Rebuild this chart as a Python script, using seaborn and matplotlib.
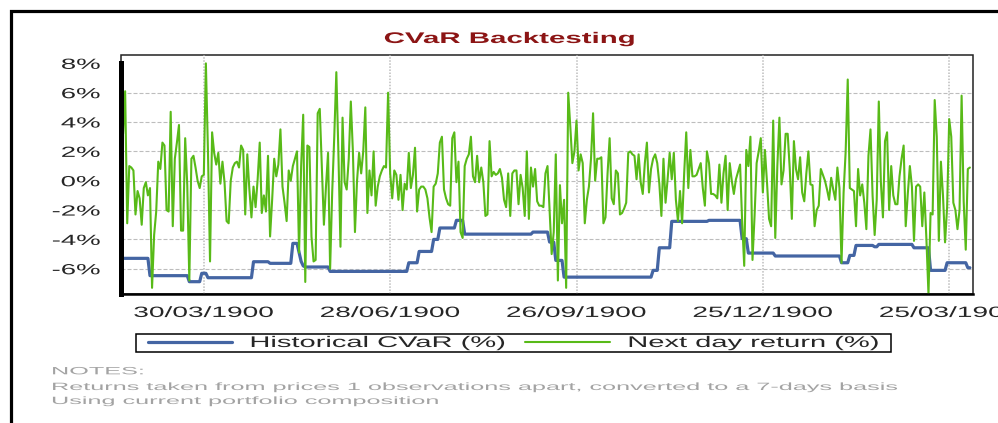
import numpy as np
import pandas as pd
import matplotlib
matplotlib.use("Agg")
import matplotlib.pyplot as plt
import matplotlib.dates as mdates
from matplotlib.ticker import FixedLocator, MultipleLocator, FuncFormatter
from matplotlib.patches import Rectangle
from matplotlib.patheffects import AbstractPathEffect
from matplotlib.transforms import Affine2D
import seaborn as sns

# observations are daily, first one on 19/02/1900
first_day = "1900-02-19"

# next day return (%) in chunks
ret_seg1 = [3.2, 6.1, -2.9, 1.0, 0.9, 0.7, -2.3, -0.7, -1.2, -3.0,
            -0.5, -0.1, -1.0, -0.5, -7.3, -3.7, -2.1, 1.3, 0.8, 2.6,
            2.4, -2.0, -2.1, 4.7, -3.1, 1.5, 2.6, 3.8, -3.4, -3.4,
            2.9, -0.3, -6.8, 1.5, 1.7, 0.9, 0.0, -0.5, 0.3, 0.4,
            8.0, 2.0, -5.5, 3.3, 1.9, 1.1, 1.9, -0.2, 1.3, -0.1,
            -2.75, -2.9, 0.0, 0.9, 1.2]
ret_seg2 = [1.3, 0.9, 2.4, 2.1, -2.3, 1.8, -0.6, -2.5, -0.4, -1.8,
            0.1, 2.6, -2.2, -1.0, -2.1, 1.7, -3.8, -1.3, 1.5, 0.3,
            1.1, 3.5, -0.4, -1.5, -2.75, 0.7, 0.0, 1.0, 1.5, 2.0,
            -4.9, 1.0, 4.5, -6.9, 2.4, 2.3, -3.8, -5.5, -5.4, 4.6,
            4.9, 1.0, -3.0, -0.4, 1.9, -6.0, -0.8, 3.0, 7.4, 1.9,
            -4.5, 4.3, -0.1, -0.6, 1.5, 5.4, 2.0, -3.5, 0.0, 1.9]
ret_seg3 = [0.5, 2.0, 5.0, -2.2, 0.7, -1.0, 2.0, -1.7, -0.4, 0.3,
            0.7, 1.0, 0.9, 6.0, 0.5, -1.2, 0.7, 0.4, -1.3, 0.4,
            -2.0, -0.2, -0.6, 1.9, -0.5, 0.4, 2.25, -2.1, -0.6, -0.4,
            -0.4, -0.6, -1.2, -2.5, -3.5, -0.4, -0.2, 0.5, 2.6, 3.0,
            -0.6, -1.2, -1.6, -1.7, 2.9, 3.3, -0.1, 1.3, -3.5, -3.9,
            1.0, 1.5, 1.8, 3.0, 0.3, -0.1, 1.7, -0.1]
ret_seg4 = [0.9, -0.1, -2.4, -2.3, 2.7, 0.3, 0.6, 0.4, 0.5, 0.8,
            0.2, -1.3, -1.8, 0.5, -2.4, 0.5, 0.7, 0.7, -1.6, 0.4,
            -0.5, -2.4, 2.0, -2.6, 0.9, -0.4, 0.8, -1.4, -1.7, -1.7,
            -1.8, 0.5, 1.0, -2.0, -5.0, -3.5, 1.8, -6.8, -0.3, -2.9,
            -1.3, -7.3, 6.0, 3.7, 1.2, 2.0, 4.1, 0.7, 1.8, 1.2,
            -2.9, -1.3, -0.4, 1.5, 4.6, 0.0, 1.5, 1.5]
ret_seg5 = [1.6, -2.9, -2.5, 0.5, 2.9, -1.2, -1.6, 0.7, 0.5, -2.3,
            -2.2, -1.9, -1.5, 1.9, 2.0, 1.8, 1.7, 0.1, 1.8, -0.1,
            -0.9, 1.2, 2.6, -0.8, 0.8, 1.5, 1.8, 1.2, -0.2, -2.4,
            1.5, -1.5, 0.1, 1.9, 0.1, 1.9, -1.3, -2.75, -0.7, -2.9,
            0.5, 3.3, -0.5, 2.1, 0.3, 0.3, 0.4, 0.8, 1.2, -0.5,
            -1.7, 2.0, 1.2, -0.9, -0.9, -1.0, -1.2, 1.1]
ret_seg6 = [-1.5, 0.5, 1.7, -2.0, 1.2, 0.0, -0.9, 0.1, 0.6, 1.1,
            -2.75, -5.8, 2.1, 1.0, 3.0, -5.4, -2.4, 1.2, 2.0, 2.9,
            -0.8, 2.1, -0.1, -2.6, -3.1, 4.1, -3.9, 1.0, 4.3, -0.25,
            0.7, 3.2, 3.2, 0.8, -2.6, 2.7, 0.8, 0.1, 1.6, -0.8,
            -1.4, 0.5, 2.0, -0.25, -0.3, -3.1, -2.0, -1.7, 0.8, 0.4,
            0.0, -0.6, -1.3, 0.2, -0.6, -1.3, 0.9, -0.5]
ret_seg7 = [-5.6, -0.8, 2.0, 6.9, -0.5, -0.6, -0.7, -3.1, 0.8, -1.0,
            -0.25, -1.5, -3.3, 1.7, 3.5, -1.0, -3.7, -1.3, 5.4, -0.1,
            -2.5, 2.7, 3.3, -2.0, 1.0, -1.0, -1.6, -1.6, 0.3, 1.5,
            2.4, -3.1, -0.9, 1.0, -0.4, -4.1, -0.4, -0.25, -0.4, -3.1,
            -0.8, -4.0, -7.75, -2.2, -2.3, 5.5, 3.0, -4.1, 1.3, -1.0,
            -4.2, -1.8, 4.2, 3.0, -1.5, -2.0, -3.3, -2.0, 5.8, -1.4,
            -4.7, 0.8, 0.9]

# historical CVaR (%): level and how many days it holds
cvar_levels = [-5.29, -6.47, -6.88, -6.31, -6.61, -5.52, -5.63, -4.27, -4.9, -5.5,
               -5.8, -5.88, -6.18, -5.59, -4.82, -4.0, -3.22, -2.7, -3.64, -3.5,
               -4.18, -5.43, -6.57, -6.11, -4.57, -2.77, -2.7, -3.95, -4.93, -5.13,
               -5.59, -5.09, -4.41, -4.5, -4.34, -4.57, -6.11, -5.59, -5.93]
cvar_days = [13, 19, 6, 3, 22, 8, 11, 3, 1, 1,
             1, 12, 38, 5, 7, 3, 8, 4, 33, 8,
             3, 4, 43, 3, 6, 18, 16, 3, 13, 32,
             4, 3, 9, 2, 17, 8, 8, 10, 2]

labels = ["Historical CVaR (%)", "Next day return (%)"]
title = "CVaR Backtesting"
notes = ["NOTES:",
         "Returns taken from prices 1 observations apart, converted to a 7-days basis",
         "Using current portfolio composition"]

BLUE = "#4465A3"
GREEN = "#58BA18"


class Stretch(AbstractPathEffect):
    """Draw text wider than the font is, like the source image."""
    def __init__(self, sx, align="center", anchor=None):
        super().__init__()
        self.sx, self.align, self.anchor = sx, align, anchor

    def draw_path(self, renderer, gc, tpath, affine, rgbFace=None):
        if self.anchor is not None:
            x0 = self.anchor * renderer.get_canvas_width_height()[0]
        else:
            ext = tpath.get_extents(affine)
            x0 = {"left": ext.x0, "center": (ext.x0 + ext.x1) / 2, "right": ext.x1}[self.align]
        t = affine + Affine2D().translate(-x0, 0).scale(self.sx, 1).translate(x0, 0)
        renderer.draw_path(gc, tpath, t, rgbFace)


ret = ret_seg1 + ret_seg2 + ret_seg3 + ret_seg4 + ret_seg5 + ret_seg6 + ret_seg7
cvar = np.repeat(cvar_levels, cvar_days)
df = pd.DataFrame({"date": pd.date_range(first_day, periods=len(ret), freq="D"),
                   "cvar": cvar, "ret": ret})

sns.set_style("white")
plt.rcParams["font.family"] = ["Liberation Sans", "DejaVu Sans"]

W, H = 998, 423
fig = plt.figure(figsize=(W / 100, H / 100), dpi=100)
ax = fig.add_axes([121 / W, 1 - 294 / H, (973 - 121) / W, (294 - 55) / H])

sns.lineplot(data=df, x="date", y="cvar", color=BLUE, lw=2.3, label=labels[0], ax=ax)
sns.lineplot(data=df, x="date", y="ret", color=GREEN, lw=1.5, label=labels[1], ax=ax)
ax.set_xlabel("")
ax.set_ylabel("")

ax.set_xlim(pd.Timestamp("1900-02-18"), pd.Timestamp("1901-04-05 12:00"))
ax.set_ylim(-7.72, 8.57)

major_x = pd.date_range("1900-03-30", periods=5, freq="90D")
minor_x = pd.date_range("1900-03-07 12:00", "1901-04-05", freq="540h")
ax.xaxis.set_major_locator(FixedLocator(mdates.date2num(major_x)))
ax.xaxis.set_minor_locator(FixedLocator(mdates.date2num(minor_x)))
ax.xaxis.set_major_formatter(mdates.DateFormatter("%d/%m/%Y"))
ax.yaxis.set_major_locator(FixedLocator(np.arange(-6, 9, 2)))
ax.yaxis.set_minor_locator(MultipleLocator(0.5))
ax.yaxis.set_major_formatter(FuncFormatter(lambda v, _: f"{v:.0f}%"))

ax.tick_params(axis="x", which="both", direction="out", length=3.2, width=1,
               color="#444444", pad=5.4, labelsize=10.7)
ax.tick_params(axis="y", which="major", direction="out", length=7, width=1,
               color="black", pad=8, labelsize=10.6)
ax.tick_params(axis="y", which="minor", direction="out", length=3.5, width=1, color="black")

ax.set_axisbelow(True)
ax.grid(True, which="major", axis="y", color="#BDBDBD", ls=(0, (3.6, 1.8)), lw=0.8)
ax.grid(True, which="major", axis="x", color="#BDBDBD", ls=(0, (1, 1)), lw=1.1)

for side in ["top", "right"]:
    ax.spines[side].set_visible(False)
ax.spines["left"].set_linewidth(3.6)
ax.spines["left"].set_color("black")
ax.spines["left"].set_bounds(-7.72, 8)
ax.spines["bottom"].set_linewidth(1.8)
ax.spines["bottom"].set_color("black")
ax.patch.set_edgecolor("#222222")
ax.patch.set_linewidth(1.1)

# legend: laid out narrow, then drawn wide about its centre
handles, _ = ax.get_legend_handles_labels()
leg_x = 513.5 / W
leg = ax.legend(handles, labels, loc="center", bbox_to_anchor=(leg_x, 1 - 343 / H),
                bbox_transform=fig.transFigure, ncol=2, frameon=True, fancybox=False,
                edgecolor="black", framealpha=1, borderpad=0.15, handlelength=2.9,
                handletextpad=0.6, columnspacing=0.7, fontsize=11.1)
leg.get_frame().set_linewidth(1.1)
leg.get_frame().set_path_effects([Stretch(1.926, anchor=leg_x)])
for t in leg.get_texts():
    t.set_path_effects([Stretch(1.887, anchor=leg_x)])
for h in leg.legend_handles:
    h.set_path_effects([Stretch(1.887, anchor=leg_x)])

title_x = 509.5 / W
fig.suptitle(title, x=title_x, y=1 - 43 / H, ha="center", va="baseline",
             fontsize=11.1, fontweight="bold", color="#8C1515",
             path_effects=[Stretch(1.91, anchor=title_x)])

notes_x = 51 / W
for line, base in zip(notes, [374.3, 390, 404]):
    fig.text(notes_x, 1 - base / H, line, ha="left", va="baseline", fontsize=7.6,
             color="#A3A3A3", path_effects=[Stretch(2.39, anchor=notes_x)])

# outer frame of the report panel, running off the right and bottom
fig.patches.append(Rectangle((10.5 / W, -0.3), 1.3, 1.3 - 11 / H, transform=fig.transFigure,
                             fill=False, ec="black", lw=2.3, zorder=10))

fig.canvas.draw()
for lab in ax.get_xticklabels():
    lab.set_path_effects([Stretch(1.89)])
for lab in ax.get_yticklabels():
    lab.set_path_effects([Stretch(1.87, align="right")])
ax.yaxis.get_gridlines()[-1].set_visible(False)

fig.savefig("out.png", dpi=100)
